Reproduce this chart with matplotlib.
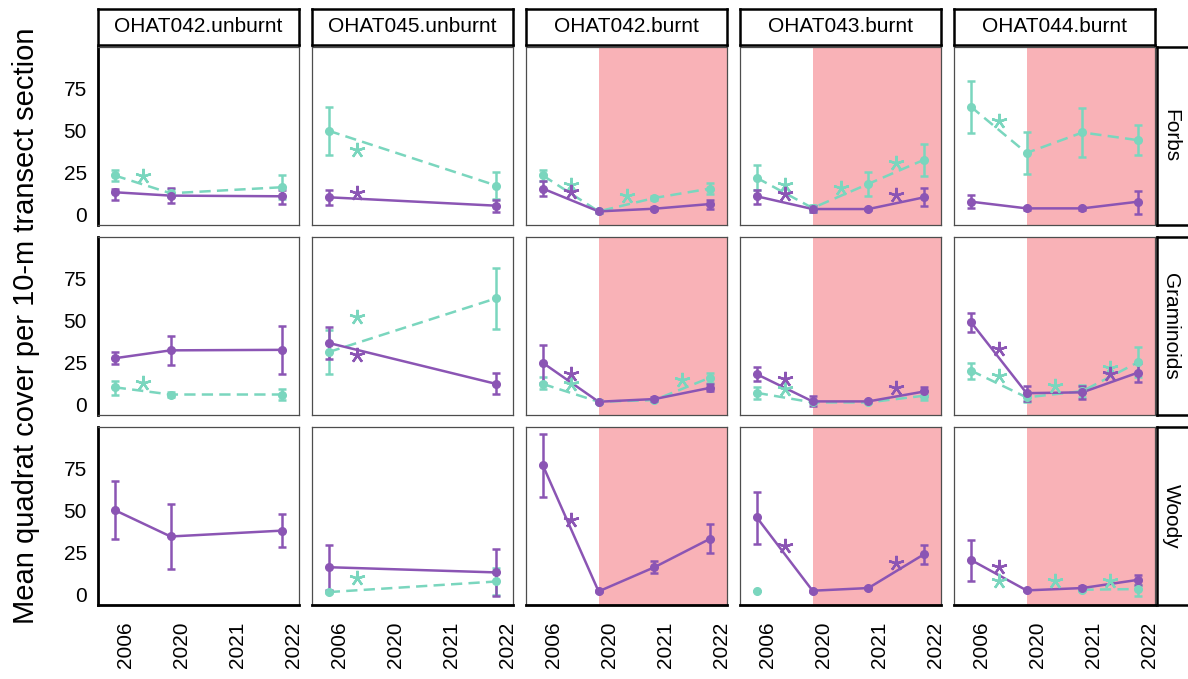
import numpy as np
import matplotlib
matplotlib.use("Agg")
import matplotlib.pyplot as plt
from matplotlib.transforms import ScaledTranslation

plt.rcParams['font.family'] = ['Liberation Sans', 'DejaVu Sans']

nan = np.nan

years = ['2006', '2020', '2021', '2022']
sites = ['OHAT042.unburnt', 'OHAT045.unburnt', 'OHAT042.burnt',
         'OHAT043.burnt', 'OHAT044.burnt']
burnt = [False, False, True, True, True]
groups = ['Forbs', 'Graminoids', 'Woody']

# ---- Forbs ----
forbs_p = [[13, 11, nan, 10.6], [10, nan, nan, 5], [15.2, 1.6, 3.2, 6],
           [10.6, 3, 3, 10], [7.4, 3.4, 3.4, 7.4]]
forbs_p_lo = [[8.2, 6.4, nan, 6], [5.6, nan, nan, 1], [10.6, 0.8, 2.4, 3.2],
              [6, 1, 2.2, 5], [3.4, 2.6, 2.4, 0]]
forbs_p_hi = [[15, 15.6, nan, 14.6], [14.4, nan, nan, 8.4], [19.6, 2.4, 4, 8.6],
              [14.6, 5, 3.8, 15.4], [11.4, 4.2, 4.4, 14]]
forbs_t = [[23, 12.4, nan, 16], [49.6, nan, nan, 17], [23, 1.6, 9.6, 15.2],
           [21.6, 3.6, 18, 32.4], [64, 36.4, 48.6, 44]]
forbs_t_lo = [[20, 10, nan, 9], [35, nan, nan, 9], [19.6, 1, 8.6, 12.2],
              [14.6, 1, 11, 22.6], [48, 24, 34, 35]]
forbs_t_hi = [[26, 15, nan, 23], [64, nan, nan, 25], [26, 2.2, 10.6, 18.6],
              [29, 5.6, 25, 42], [79.4, 49, 63.4, 53]]
forbs_p_sig = [[], [0], [0], [0, 2], []]
forbs_t_sig = [[0], [0], [0, 1], [0, 1, 2], [0]]

# ---- Graminoids ----
gram_p = [[27.3, 32, nan, 32.3], [36.4, nan, nan, 12], [24.6, 1.4, 3, 9.7],
          [17.8, 1.6, 1.6, 7.5], [49, 6.5, 7, 18.8]]
gram_p_lo = [[23.8, 23.2, nan, 18.2], [26.7, nan, nan, 6], [12.7, 0.6, 1.8, 7.5],
             [13.5, -1, 1, 5], [42.8, 2, 3, 13]]
gram_p_hi = [[31, 40.4, nan, 46.5], [46, nan, nan, 18.6], [35.4, 2.2, 4.2, 12],
             [21.8, 5, 2.2, 10], [54.5, 11, 10.7, 24.2]]
gram_t = [[10, 5.7, nan, 5.7], [31, nan, nan, 63], [12, 1.4, 2.4, 15.8],
          [6.7, 1, 1, 5], [20, 4, 7.7, 25]]
gram_t_lo = [[5.7, 4.3, nan, 2.4], [17.8, nan, nan, 44.8], [9, 0.8, 1.6, 12.7],
             [3, 0.4, 0.4, 2.4], [15, 1, 4.2, 16]]
gram_t_hi = [[13.5, 7.1, nan, 9], [44.4, nan, nan, 81], [16, 2, 3.2, 18.6],
             [10, 1.6, 1.6, 8], [24.6, 7, 11.2, 34]]
gram_p_sig = [[], [0], [0], [0, 2], [0, 2]]
gram_t_sig = [[0], [0], [0, 2], [0], [0, 1, 2]]

# ---- Woody ----
woody_p = [[50, 34.3, nan, 37.8], [16, nan, nan, 12.9], [76.8, 1.6, 16, 33],
           [45.7, 2, 3.6, 23.8], [20.4, 2.2, 3.6, 8.5]]
woody_p_lo = [[32.9, 15, nan, 28], [2.6, nan, nan, -1], [57.6, 1, 12.5, 24.4],
              [30, 1.4, 3, 18], [7.9, 1.6, 2.6, 5.5]]
woody_p_hi = [[67.5, 53.5, nan, 47.7], [29, nan, nan, 26.7], [95.6, 2.2, 19.8, 41.8],
              [61, 2.6, 4.2, 29.3], [32.3, 2.8, 4.6, 11.5]]
woody_t = [[nan, nan, nan, nan], [1.2, nan, nan, 7.5], [nan, nan, nan, nan],
           [1.6, nan, nan, nan], [nan, nan, 2.6, 3]]
woody_t_lo = [[nan, nan, nan, nan], [0.6, nan, nan, -0.5], [nan, nan, nan, nan],
              [1.6, nan, nan, nan], [nan, nan, 2, -1.4]]
woody_t_hi = [[nan, nan, nan, nan], [1.8, nan, nan, 15.4], [nan, nan, nan, nan],
              [1.6, nan, nan, nan], [nan, nan, 3.2, 5.5]]
woody_p_sig = [[], [], [0], [0, 2], [0]]
woody_t_sig = [[], [0], [], [], [0, 1, 2]]

purple = '#8B55B4'
teal = '#7AD6BE'
pink = '#F9B2B7'
dash = (0, (4.5, 2.5))

series = {
    'Forbs': [(forbs_t, forbs_t_lo, forbs_t_hi, forbs_t_sig, teal, dash),
              (forbs_p, forbs_p_lo, forbs_p_hi, forbs_p_sig, purple, '-')],
    'Graminoids': [(gram_t, gram_t_lo, gram_t_hi, gram_t_sig, teal, dash),
                   (gram_p, gram_p_lo, gram_p_hi, gram_p_sig, purple, '-')],
    'Woody': [(woody_t, woody_t_lo, woody_t_hi, woody_t_sig, teal, dash),
              (woody_p, woody_p_lo, woody_p_hi, woody_p_sig, purple, '-')],
}


def star_y(v, s):
    # mean of this point and the next sampled one, nudged up a bit
    nxt = v[s + 1:][~np.isnan(v[s + 1:])]
    pts = [v[s]] + ([nxt[0]] if len(nxt) else [])
    pts = np.array(pts)
    if np.all(np.isnan(pts)):
        return np.nanmean(v) + 5
    return np.nanmean(pts) + 5


W, H = 1188, 679
fig = plt.figure(figsize=(W / 100, H / 100), dpi=100)

col_left = [98, 312, 526, 740, 954]
col_w = 201
row_top = [47, 237, 427]
row_h = 178

x = np.arange(len(years))
xlim = (-0.3, 3.3)
ylim = (-6.5, 99.5)

for r, g in enumerate(groups):
    for c, site in enumerate(sites):
        ax = fig.add_axes([col_left[c] / W, 1 - (row_top[r] + row_h) / H,
                           col_w / W, row_h / H])
        ax.set_xlim(*xlim)
        ax.set_ylim(*ylim)
        if burnt[c]:
            ax.axvspan(1, xlim[1], color=pink, lw=0, zorder=0)

        for vals, lo, hi, sig, col, ls in series[g]:
            v = np.array(vals[c], dtype=float)
            l = np.array(lo[c], dtype=float)
            h = np.array(hi[c], dtype=float)
            ok = ~np.isnan(v)
            if ok.sum() == 0:
                continue
            ax.plot(x[ok], v[ok], color=col, lw=1.8, ls=ls, zorder=3)
            ax.errorbar(x[ok], v[ok], yerr=[v[ok] - l[ok], h[ok] - v[ok]],
                        fmt='o', ms=5.5, color=col, elinewidth=1.8,
                        capsize=3, capthick=1.8, zorder=4)
            for s in sig[c]:
                ax.plot(s + 0.5, star_y(v, s), marker=(5, 2, 0), ms=11,
                        mew=1.7, color=col, ls='none', zorder=5)

        ax.set_xticks(x)
        ax.set_yticks([0, 25, 50, 75])
        ax.tick_params(length=0, labelsize=15)
        for sp in ax.spines.values():
            sp.set_color('#4d4d4d')
            sp.set_linewidth(0.9)
        if c == 0:
            ax.set_yticklabels(['0', '25', '50', '75'])
            ax.tick_params(axis='y', pad=8)
            ax.spines['left'].set_color('black')
            ax.spines['left'].set_linewidth(2)
        else:
            ax.set_yticklabels([])
        if r == len(groups) - 1:
            ax.set_xticklabels(years, rotation=90, va='top', ha='center')
            ax.tick_params(axis='x', pad=12)
            off = ScaledTranslation(0.11, 0, fig.dpi_scale_trans)
            for lab in ax.get_xticklabels():
                lab.set_transform(lab.get_transform() + off)
            ax.spines['bottom'].set_color('black')
            ax.spines['bottom'].set_linewidth(2)
        else:
            ax.set_xticklabels([])

        # top strips
        if r == 0:
            st = fig.add_axes([col_left[c] / W, 1 - 45 / H, col_w / W, 36 / H])
            st.set_xticks([])
            st.set_yticks([])
            for sp in st.spines.values():
                sp.set_linewidth(1.8)
                sp.set_color('black')
            st.text(0.5, 0.5, site, ha='center', va='center', fontsize=15,
                    transform=st.transAxes)
        # right strips
        if c == len(sites) - 1:
            rs = fig.add_axes([1157 / W, 1 - (row_top[r] + row_h) / H,
                               45 / W, row_h / H])
            rs.set_xticks([])
            rs.set_yticks([])
            for sp in rs.spines.values():
                sp.set_linewidth(1.8)
                sp.set_color('black')
            fig.text(1171 / W, 1 - (row_top[r] + row_h / 2) / H, g,
                     rotation=-90, ha='center', va='center', fontsize=15)

fig.text(26 / W, 1 - 326 / H, 'Mean quadrat cover per 10-m transect section',
         rotation=90, ha='center', va='center', fontsize=21)

fig.savefig('out.png', dpi=100)
